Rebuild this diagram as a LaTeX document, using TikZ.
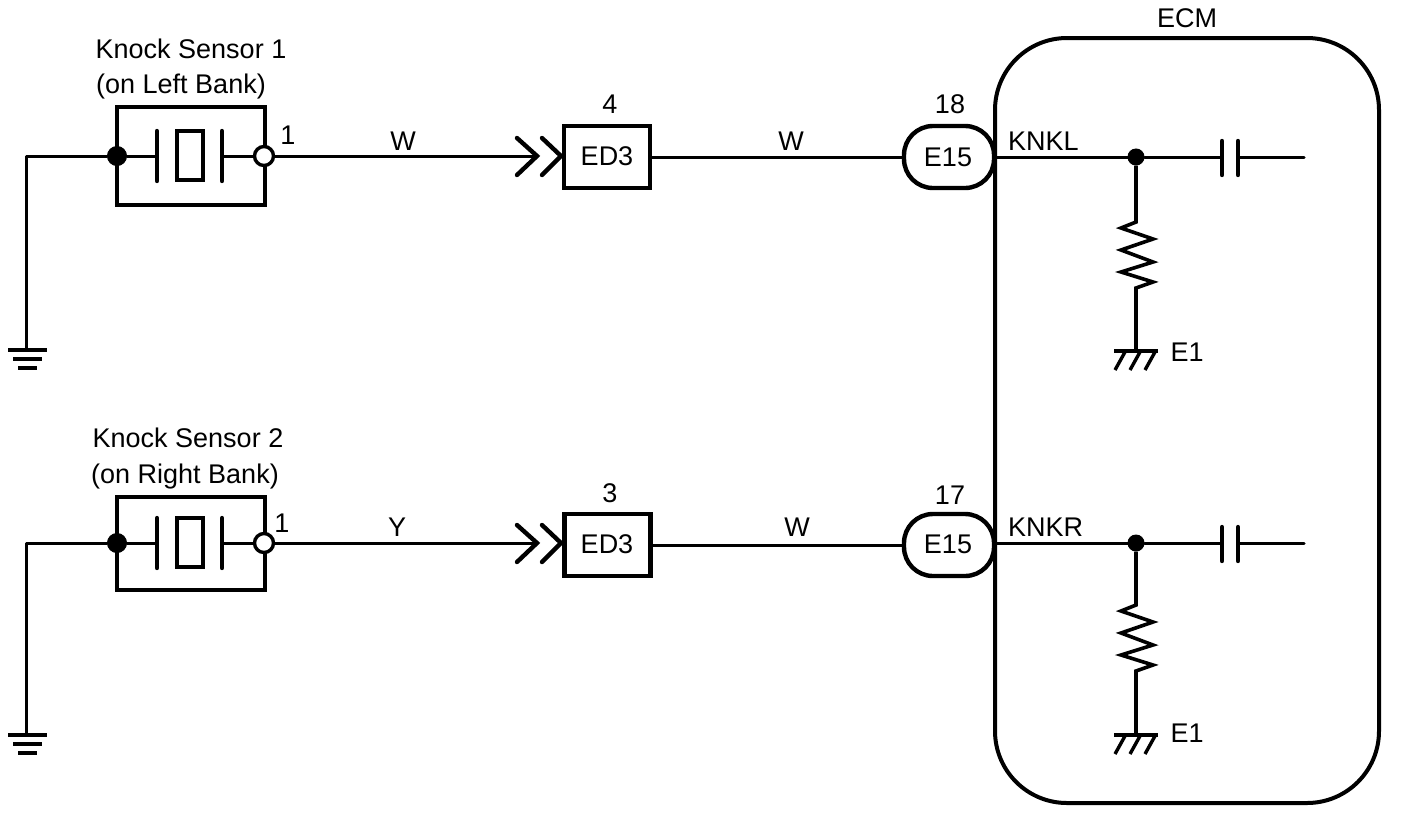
\documentclass[tikz,border=0pt]{standalone}
\usepackage{fontspec}
\setmainfont{Liberation Sans}
\usetikzlibrary{calc}
\tikzset{
  x=1pt,y=-1pt,
  wire/.style={line width=3pt,line cap=round,line join=round},
  heavy/.style={line width=4.4pt,line join=miter},
  lbl/.style={inner sep=0pt,anchor=base,font=\fontsize{27}{30}\selectfont},
  lbll/.style={lbl,anchor=base west},
  dotb/.style={circle,fill=black,draw=black,line width=1pt,minimum size=19pt,inner sep=0pt},
  dotw/.style={circle,fill=white,draw=black,line width=3.4pt,minimum size=19pt,inner sep=0pt},
  dotj/.style={circle,fill=black,draw=black,line width=1pt,minimum size=16pt,inner sep=0pt},
  boxn/.style={rectangle,draw=black,fill=white,line width=4.4pt,minimum width=86pt,minimum height=62pt,inner sep=0pt},
  pilln/.style={rectangle,rounded corners=29pt,draw=black,fill=white,line width=4.4pt,minimum width=90pt,minimum height=62pt,inner sep=0pt},
}
\begin{document}
\begin{tikzpicture}
\useasboundingbox[fill=white] (0,0) rectangle (1408,812);
% ECM
\node[rectangle,rounded corners=72pt,draw=black,line width=4pt,minimum width=384pt,minimum height=765pt,inner sep=0pt] (ecm) at (1187,420.5) {};
\node[lbl] (ecmt) at (1187,27) {ECM};

% ---- row 1 ----
\node[lbl] (k1a) at (191,58) {Knock Sensor 1};
\node[lbl] (k1b) at (181,93) {(on Left Bank)};
\node[rectangle,draw=black,line width=4.4pt,minimum width=148pt,minimum height=98pt,inner sep=0pt] (s1) at (191,156) {};
\coordinate (gw1) at (26,156);
\coordinate (gt1) at (26,350);
\node[dotb] (a1) at (117,156) {};
\node[dotw] (b1) at (264,156) {};
\coordinate (p1l) at (157,156);
\coordinate (p1r) at (222,156);
\draw[wire] (a1) -- (gw1) -- (gt1);
\draw[wire] (a1) -- (p1l);
\draw[wire] (b1) -- (p1r);
\draw[heavy,line cap=round] (157,131) -- (157,181);
\draw[heavy,line cap=round] (222,131) -- (222,181);
\draw[line width=3.4pt] (177,131) rectangle (203,180);
\draw[line width=4pt] (8,350) -- (47,350);
\draw[line width=4pt] (13,359) -- (42,359);
\draw[line width=4pt] (18,368) -- (37,368);
\node[lbl] (n1) at (288,144) {1};
\node[lbl] (w1) at (403,150) {W};
\node[boxn] (ed1) at (607,157) {};
\node[lbl] at (607,165) {ED3};
\node[lbl] (c1) at (610,113) {4};
\coordinate (ch1) at (537,156);
\draw[wire] (b1) -- (ch1);
\draw[line width=4.4pt,line cap=round,line join=miter] (517,138) -- (537,156) -- (517,175);
\draw[line width=4.4pt,line cap=round,line join=miter] (542,138) -- (561,156) -- (542,175);
\node[pilln] (e1) at (949,157) {};
\node[lbl] at (948,166) {E15};
\node[lbl] (c1b) at (950,113) {18};
\draw[wire] (ed1) -- (e1);
\node[lbl] (w2) at (791,150) {W};
\node[lbll] (kl) at (1008,150) {KNKL};
\node[dotj] (j1) at (1136,157) {};
\coordinate (c1l) at (1222,157);
\coordinate (c1r) at (1238,157);
\coordinate (end1) at (1304,157);
\draw[wire] (e1.east) -- (j1) -- (c1l);
\draw[wire] (c1r) -- (end1);
\draw[heavy,line cap=round] (1222,141) -- (1222,175);
\draw[heavy,line cap=round] (1238,141) -- (1238,175);
\coordinate (g1) at (1136,351);
\draw[wire,line cap=butt,line width=3.6pt,line join=miter] (j1) -- (1136,222) -- (1121,228) -- (1153,239) -- (1121,250) -- (1153,262) -- (1121,272) -- (1153,282) -- (1136,288) -- (g1);
\draw[line width=4.4pt] (1114,351) -- (1158,351);
\draw[line width=3.4pt] (1125,352) -- (1115,370) (1140,352) -- (1130,370) (1155,352) -- (1145,370);
\node[lbl] (e1a) at (1187,361) {E1};

% ---- row 2 ----
\node[lbl] (k2a) at (188,447) {Knock Sensor 2};
\node[lbl] (k2b) at (185,483) {(on Right Bank)};
\node[rectangle,draw=black,line width=4.4pt,minimum width=148pt,minimum height=93pt,inner sep=0pt] (s2) at (191,543.5) {};
\coordinate (gw2) at (26,543);
\coordinate (gt2) at (26,735);
\node[dotb] (a2) at (117,543) {};
\node[dotw] (b2) at (264,543) {};
\coordinate (p2l) at (157,543);
\coordinate (p2r) at (222,543);
\draw[wire] (a2) -- (gw2) -- (gt2);
\draw[wire] (a2) -- (p2l);
\draw[wire] (b2) -- (p2r);
\draw[heavy,line cap=round] (157,518) -- (157,568);
\draw[heavy,line cap=round] (222,518) -- (222,568);
\draw[line width=3.4pt] (177,518) rectangle (203,567);
\draw[line width=4pt] (8,735) -- (47,735);
\draw[line width=4pt] (13,744) -- (42,744);
\draw[line width=4pt] (18,753) -- (37,753);
\node[lbl] (n2) at (282,532) {1};
\node[lbl] (y2) at (397,536) {Y};
\node[boxn] (ed2) at (607.5,545) {};
\node[lbl] at (607,553) {ED3};
\node[lbl] (c2) at (610,502) {3};
\coordinate (ch2) at (537,543);
\draw[wire] (b2) -- (ch2);
\draw[line width=4.4pt,line cap=round,line join=miter] (517,525) -- (537,543) -- (517,562);
\draw[line width=4.4pt,line cap=round,line join=miter] (542,525) -- (561,543) -- (542,562);
\node[pilln] (e2) at (949,545) {};
\node[lbl] at (948,553) {E15};
\node[lbl] (c2b) at (950,504) {17};
\draw[wire] (ed2) -- (e2);
\node[lbl] (w3) at (797,536) {W};
\node[lbll] (kr) at (1008,536) {KNKR};
\node[dotj] (j2) at (1136,543) {};
\coordinate (c2l) at (1222,543);
\coordinate (c2r) at (1238,543);
\coordinate (end2) at (1304,543);
\draw[wire] (e2.east |- j2) -- (j2) -- (c2l);
\draw[wire] (c2r) -- (end2);
\draw[heavy,line cap=round] (1222,527) -- (1222,561);
\draw[heavy,line cap=round] (1238,527) -- (1238,561);
\coordinate (g2) at (1136,733);
\draw[wire,line cap=butt,line width=3.6pt,line join=miter] (j2) -- (1136,605) -- (1121,611) -- (1153,622) -- (1121,633) -- (1153,645) -- (1121,655) -- (1153,665) -- (1136,671) -- (g2);
\draw[line width=4.4pt] (1114,735) -- (1158,735);
\draw[line width=3.4pt] (1125,736) -- (1115,754) (1140,736) -- (1130,754) (1155,736) -- (1145,754);
\node[lbl] (e2a) at (1187,742) {E1};
\end{tikzpicture}
\end{document}
